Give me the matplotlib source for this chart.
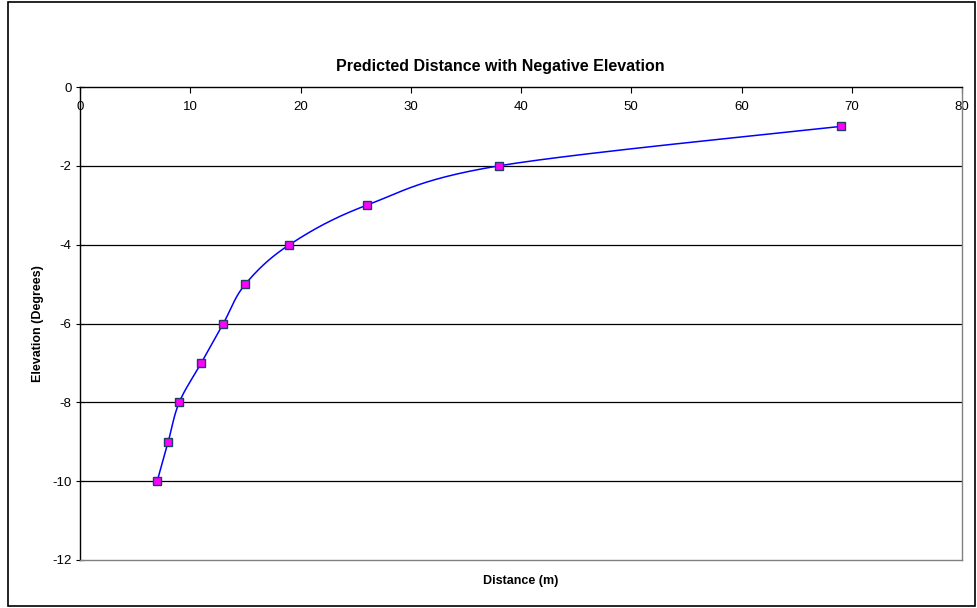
import matplotlib.pyplot as plt
import numpy as np
from matplotlib.patches import Rectangle

plt.rcParams["font.family"] = ["Liberation Sans", "DejaVu Sans"]
plt.rcParams["axes.unicode_minus"] = False

# Data
distance = [7, 8, 9, 11, 13, 15, 19, 26, 38, 69]
elevation = [-10, -9, -8, -7, -6, -5, -4, -3, -2, -1]

x_ticks = [0, 10, 20, 30, 40, 50, 60, 70, 80]
y_ticks = [0, -2, -4, -6, -8, -10, -12]


def smooth(xs, ys, n=30):
    # Excel-like smoothed line: cubic Bezier with Catmull-Rom control points
    px = np.asarray(xs, float)
    py = np.asarray(ys, float)
    px = np.concatenate([[px[0]], px, [px[-1]]])
    py = np.concatenate([[py[0]], py, [py[-1]]])
    out_x, out_y = [], []
    t = np.linspace(0, 1, n)
    for i in range(1, len(px) - 2):
        p0 = np.array([px[i], py[i]])
        p3 = np.array([px[i + 1], py[i + 1]])
        c1 = p0 + (p3 - np.array([px[i - 1], py[i - 1]])) / 6
        c2 = p3 - (np.array([px[i + 2], py[i + 2]]) - p0) / 6
        b = (np.outer((1 - t) ** 3, p0) + np.outer(3 * (1 - t) ** 2 * t, c1)
             + np.outer(3 * (1 - t) * t ** 2, c2) + np.outer(t ** 3, p3))
        out_x.extend(b[:, 0])
        out_y.extend(b[:, 1])
    return out_x, out_y


def main():
    fig = plt.figure(figsize=(9.78, 6.08), dpi=100)
    ax = fig.add_axes([80 / 978, 1 - 560 / 608, 882 / 978, 473 / 608])

    # outer chart border
    fig.patches.append(Rectangle((8 / 978, 2 / 608), 967 / 978, 604 / 608,
                                 transform=fig.transFigure, fill=False,
                                 edgecolor="black", linewidth=1.2))

    # horizontal gridlines
    for yv in y_ticks[1:-1]:
        ax.axhline(yv, color="black", linewidth=0.9, zorder=1)

    sx, sy = smooth(distance, elevation)
    ax.plot(sx, sy, color="#0000ff", linewidth=1.1, zorder=2)
    ax.plot(distance, elevation, linestyle="none", marker="s", markersize=6,
            markerfacecolor="#ff00ff", markeredgecolor="#1f3f5f",
            markeredgewidth=1.0, zorder=3)

    ax.set_xlim(0, 80)
    ax.set_ylim(-12, 0)
    ax.set_xticks(x_ticks)
    ax.set_yticks(y_ticks)

    ax.spines["top"].set_color("black")
    ax.spines["left"].set_color("black")
    ax.spines["right"].set_color("#808080")
    ax.spines["bottom"].set_color("#808080")
    for s in ax.spines.values():
        s.set_linewidth(1.0)

    ax.xaxis.tick_top()
    ax.tick_params(axis="x", direction="in", length=4, pad=-19,
                   labelsize=9.5, top=True, bottom=False)
    ax.tick_params(axis="y", direction="inout", length=6, pad=3, labelsize=9.5)

    fig.text(500 / 978, 1 - 67 / 608,
             "Predicted Distance with Negative Elevation",
             fontsize=11.5, fontweight="bold", ha="center", va="center")
    ax.set_ylabel("Elevation (Degrees)", fontsize=9, fontweight="bold",
                  labelpad=6)
    ax.set_xlabel("Distance (m)", fontsize=9, fontweight="bold", labelpad=11)
    ax.xaxis.set_label_position("bottom")

    fig.savefig("out.png", dpi=100)


if __name__ == "__main__":
    main()
